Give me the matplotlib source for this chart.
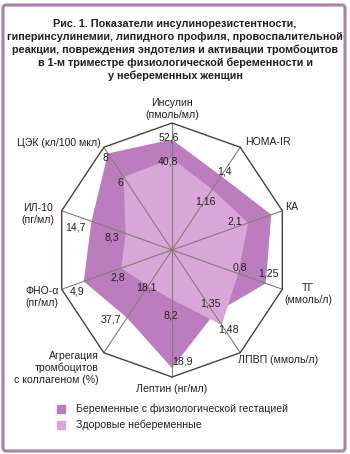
import matplotlib
matplotlib.use("Agg")
import matplotlib.pyplot as plt
import numpy as np
from matplotlib.patches import FancyBboxPatch, Rectangle

plt.rcParams["font.family"] = ["Liberation Sans", "DejaVu Sans"]

# axes of the diagram, clockwise from the top
axis_labels = ["Инсулин\n(пмоль/мл)", "HOMA-IR", "КА", "ТГ\n(ммоль/л)",
               "ЛПВП (ммоль/л)", "Лептин (нг/мл)",
               "Агрегация\nтромбоцитов\nс коллагеном (%)", "ФНО-α\n(пг/мл)",
               "ИЛ-10\n(пг/мл)", "ЦЭК (кл/100 мкл)"]

# relative radius of each polygon vertex (as drawn in the figure, 1 = outer frame)
pregnant_r = [0.87, 0.72, 0.90, 0.85, 0.62, 0.93, 0.66, 0.80, 0.73, 0.94]
control_r = [0.72, 0.59, 0.69, 0.60, 0.73, 0.39, 0.35, 0.46, 0.42, 0.71]

# printed values
value_labels = ["52,6", "40,8", "1,4", "1,16", "2,1", "0,8", "1,25", "1,35", "1,48",
                "8,2", "18,9", "18,1", "37,7", "2,8", "4,9", "14,7", "8,3", "8", "6"]

title = ("Рис. 1. Показатели инсулинорезистентности,\n"
         "гиперинсулинемии, липидного профиля, провоспалительной\n"
         "реакции, повреждения эндотелия и активации тромбоцитов\n"
         "в 1-м триместре физиологической беременности и\n"
         "у небеременных женщин")
legend_labels = ["Беременные с физиологической гестацией", "Здоровые небеременные"]

dark = "#bb7dbe"
light = "#d9a7d7"
W, H = 350, 454

fig = plt.figure(figsize=(W / 100, H / 100), dpi=100)

# center of the diagram at (172, 250) px, x unit 116 px, y unit 127 px
cx, cy, ux, uy = 172, 250, 116, 127
xl, yl = 1.45, 1.35
ax = fig.add_axes([(cx - xl * ux) / W, (H - cy - yl * uy) / H,
                   2 * xl * ux / W, 2 * yl * uy / H])
ax.set_xlim(-xl, xl)
ax.set_ylim(-yl, yl)
ax.axis("off")

n = len(axis_labels)
theta = np.arange(n) * 2 * np.pi / n


def xy(r):
    r = np.asarray(r, dtype=float)
    return r * np.sin(theta), r * np.cos(theta)


for r, c in ((pregnant_r, dark), (control_r, light)):
    x, y = xy(r)
    ax.fill(x, y, color=c, lw=0, zorder=1)

ox, oy = xy(np.ones(n))
for i in range(n):
    ax.plot([0, ox[i]], [0, oy[i]], color="#857a7a", lw=0.8, zorder=2)
ax.fill(ox, oy, facecolor="none", edgecolor="#4e4035", lw=1.0, zorder=3)


def ftext(px, py, s, **kw):
    fig.text(px / W, 1 - py / H, s, **kw)


# title
ftext(175, 50, title, ha="center", va="center", fontsize=7.8,
      fontweight="bold", linespacing=1.3, color="#231f20")

# axis names: (x, y, ha)
name_pos = [(172, 109, "center"), (245, 142, "left"), (285, 207, "left"),
            (308, 294, "center"), (238, 360, "left"), (172, 389, "center"),
            (99, 368, "right"), (42, 297, "center"), (38, 214, "center"),
            (59, 143, "center")]
for s, (px, py, ha) in zip(axis_labels, name_pos):
    ftext(px, py, s, ha=ha, va="center", fontsize=7.6, linespacing=1.2,
          color="#231f20", multialignment=ha)

# value labels
value_pos = [(169, 137), (168, 162), (225, 172), (205, 202), (235, 222),
             (240, 267), (268, 274), (210, 303), (228, 330), (171, 315),
             (182, 362), (146, 287), (111, 320), (118, 277), (77, 292),
             (75, 227), (112, 238), (105, 158), (120, 183)]
for s, (px, py) in zip(value_labels, value_pos):
    ftext(px, py, s, ha="center", va="center", fontsize=7.6, color="#231f20")

# legend
for i, (s, c) in enumerate(zip(legend_labels, (dark, light))):
    py = 409 + 16 * i
    fig.patches.append(Rectangle((57 / W, 1 - (py + 4) / H), 8 / W, 8 / H,
                                 transform=fig.transFigure, color=c))
    ftext(76, py, s, ha="left", va="center", fontsize=7.6, color="#231f20")

# frame
fig.patches.append(FancyBboxPatch((3 / W, 3 / H), 342 / W, 446 / H,
                                  boxstyle="round,pad=0,rounding_size=0.008",
                                  transform=fig.transFigure, facecolor="none",
                                  edgecolor="#a882aa", lw=2.2))

fig.savefig("out.png", dpi=100)
